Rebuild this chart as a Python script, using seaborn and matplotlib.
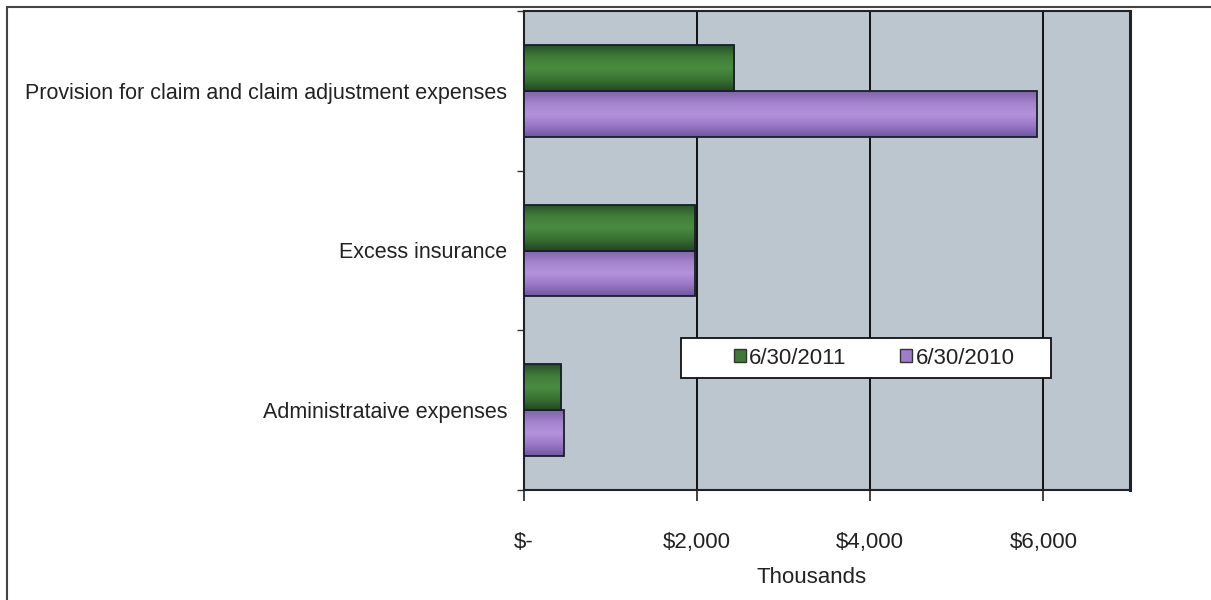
import matplotlib
matplotlib.use("Agg")
import matplotlib.pyplot as plt
import seaborn as sns
import pandas as pd
import numpy as np
from matplotlib.patches import Patch, Rectangle
from matplotlib.lines import Line2D
from matplotlib.colors import LinearSegmentedColormap

categories = ["Provision for claim and claim adjustment expenses",
              "Excess insurance",
              "Administrataive expenses"]
series_names = ["6/30/2011", "6/30/2010"]
values_2011 = [2430, 1980, 430]
values_2010 = [5920, 1980, 460]
x_ticks = [0, 2000, 4000, 6000]
x_tick_labels = ["$-", "$2,000", "$4,000", "$6,000"]
x_label = "Thousands"

colors = ["#3e7a36", "#a07ccc"]
shades = [["#27502a", "#3f7d37", "#4a8c40", "#3a7434", "#224a22"],
          ["#7f62a8", "#a283cc", "#b394dc", "#9a78c6", "#6e58a0"]]

df = pd.DataFrame({
    "category": categories * 2,
    "value": values_2011 + values_2010,
    "series": [series_names[0]] * 3 + [series_names[1]] * 3,
})

sns.set_theme(style="white")
plt.rcParams["font.family"] = ["Liberation Sans", "DejaVu Sans"]

fig = plt.figure(figsize=(12.11, 6.0), dpi=100)
ax = fig.add_axes([524 / 1211, 1 - 490 / 600, 606 / 1211, 479 / 600])
ax.set_facecolor("#bcc6cf")

sns.barplot(data=df, x="value", y="category", hue="series", orient="h",
            palette=colors, width=0.575, gap=0, edgecolor="#1a1f2a",
            linewidth=1.3, ax=ax, legend=False, saturation=1, zorder=3)

ax.set_xlim(0, 7000)
ax.set_ylim(2.5, -0.5)

# cylinder-like shading on each bar
bars = [p for p in ax.patches]
for p in bars:
    fc = p.get_facecolor()
    idx = 0 if abs(fc[0] - int(colors[0][1:3], 16) / 255) < 0.05 else 1
    cmap = LinearSegmentedColormap.from_list("s%d" % idx, shades[idx])
    x0, y0 = p.get_x(), p.get_y()
    w, h = p.get_width(), p.get_height()
    grad = np.linspace(0, 1, 64).reshape(-1, 1)
    im = ax.imshow(grad, cmap=cmap, aspect="auto",
                   extent=(x0, x0 + w, y0 + h, y0), origin="upper",
                   zorder=3.5, interpolation="bilinear")
    im.set_clip_path(p)
    p.set_facecolor("none")
    p.set_zorder(4)
ax.set_xlim(0, 7000)
ax.set_ylim(2.5, -0.5)

ax.set_xticks(x_ticks)
ax.set_xticklabels(x_tick_labels, fontsize=16, color="#222222")
ax.set_yticks(range(len(categories)))
ax.set_yticklabels(categories, fontsize=15.5, color="#222222")
ax.set_yticks([-0.5, 0.5, 1.5, 2.5], minor=True)
ax.tick_params(axis="y", which="major", length=0, pad=12)
ax.tick_params(axis="y", which="minor", length=5, width=1, color="#333333", left=True)
ax.tick_params(axis="x", which="major", length=8, width=1.2, color="#222222",
               bottom=True, pad=22)
ax.set_ylabel("")
ax.set_xlabel(x_label, fontsize=16, color="#222222", labelpad=10)
ax.xaxis.label.set_x(0.474)

ax.grid(False)
for xv in x_ticks[1:]:
    ax.axvline(xv, color="#111111", linewidth=1.4, zorder=2)

for side, sp in ax.spines.items():
    sp.set_visible(True)
    sp.set_color("#222222")
    sp.set_linewidth(1.5)
ax.spines["right"].set_linewidth(2.2)

# legend box
box = Rectangle(((681 - 524) / 606, 1 - (378 - 11) / 479), (1051 - 681) / 606,
                40 / 479, transform=ax.transAxes, facecolor="white",
                edgecolor="#111111", linewidth=1.3, zorder=5)
ax.add_patch(box)
handles = [Patch(facecolor=c, edgecolor="#333333", linewidth=1) for c in colors]
leg = ax.legend(handles, series_names, loc="center",
                bbox_to_anchor=((874 - 524) / 606, 1 - (358 - 11) / 479),
                ncol=2, fontsize=16, frameon=False,
                handlelength=0.55, handleheight=0.55, handletextpad=0.15,
                borderaxespad=0, borderpad=0.2, columnspacing=2.4)
for t in leg.get_texts():
    t.set_color("#222222")
leg.set_zorder(6)

fig.add_artist(Line2D([7 / 1211, 1], [1 - 7 / 600, 1 - 7 / 600],
                      color="#444444", linewidth=1.5, transform=fig.transFigure))
fig.add_artist(Line2D([7 / 1211, 7 / 1211], [0, 1 - 7 / 600],
                      color="#444444", linewidth=1.5, transform=fig.transFigure))

fig.savefig("out.png", dpi=100)
